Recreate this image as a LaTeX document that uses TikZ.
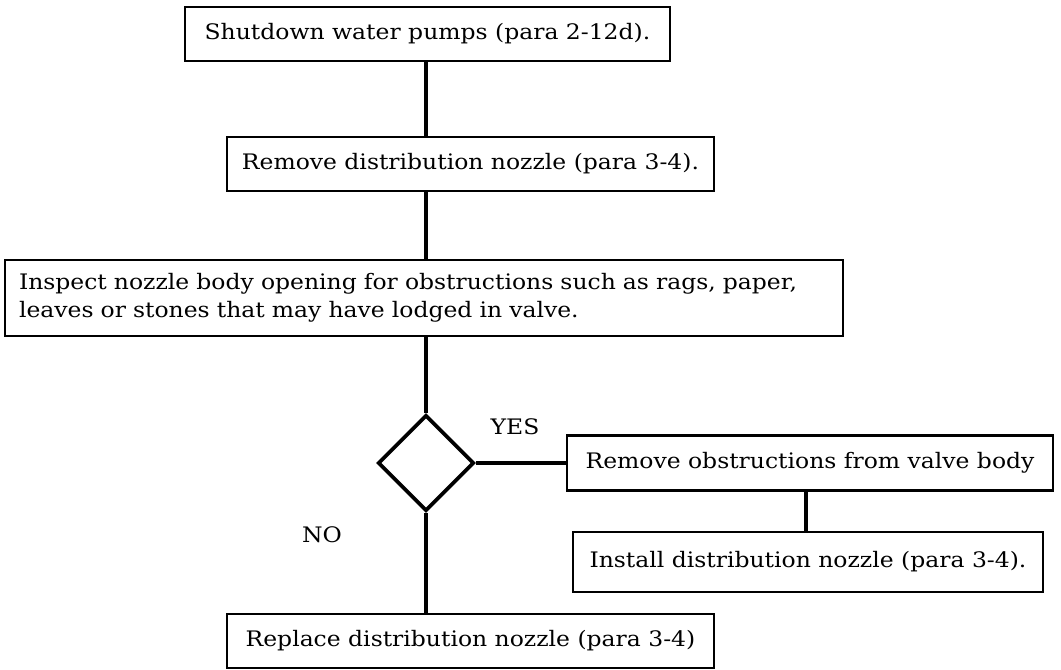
\documentclass[tikz,border=0pt]{standalone}
\usepackage{fontspec}
\setmainfont[FakeStretch=1.1]{DejaVu Serif}
\usetikzlibrary{shapes.geometric}
\begin{document}
\begin{tikzpicture}[x=0.75pt,y=-0.75pt,
  txt/.style={font=\fontsize{16}{21}\selectfont},
  box/.style={draw, line width=2pt, inner sep=0pt, txt},
  conn/.style={line width=2.5pt},
  dec/.style={draw, diamond, aspect=1, line width=2.8pt, inner sep=0pt, minimum width=72pt, minimum height=72pt}]
\useasboundingbox (0,0) rectangle (1061,669);
\coordinate (sp) at (426,0);
\coordinate (c45) at (806,0);
\node[box, minimum width=363.75pt, minimum height=40.5pt] (b1) at (427.5,34) {Shutdown water pumps (para 2-12d).};
\node[box, minimum width=365.25pt, minimum height=40.5pt] (b2) at (470.5,164) {Remove distribution nozzle (para 3-4).};
\node[box, minimum height=57pt, inner xsep=10.5pt, text width=607.5pt, align=left] (b3) at (424,298) {Inspect nozzle body opening for obstructions such as rags, paper,\\leaves or stones that may have lodged in valve.};
\node[dec] (d) at (426,463) {};
\node[box, minimum width=364.5pt, minimum height=41.25pt] (b4) at (810,463) {Remove obstructions from valve body};
\node[box, minimum width=352.5pt, minimum height=45pt] (b5) at (808,562) {Install distribution nozzle (para 3-4).};
\node[box, minimum width=365.25pt, minimum height=40.5pt] (b6) at (470.5,641) {Replace distribution nozzle (para 3-4)};
\node[txt] (yes) at (515,427) {YES};
\node[txt] (no) at (322,535) {NO};
\draw[conn] (b1.south -| sp) -- (b2.north -| sp);
\draw[conn] (b2.south -| sp) -- (b3.north -| sp);
\draw[conn] (b3.south -| d.north) -- (d.north);
\draw[conn] (d.east) -- (b4.west);
\draw[conn] (b4.south -| c45) -- (b5.north -| c45);
\draw[conn] (d.south) -- (d.south |- b6.north);
\end{tikzpicture}
\end{document}
